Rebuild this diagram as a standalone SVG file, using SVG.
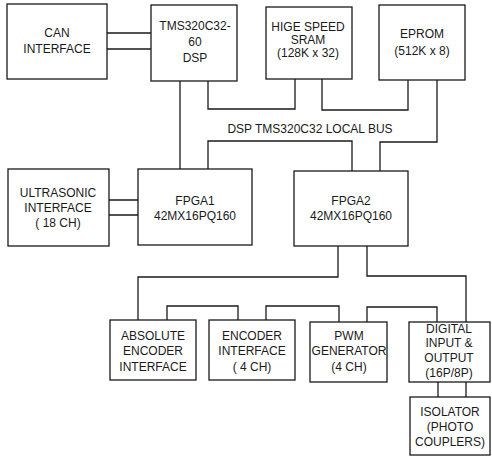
<svg xmlns="http://www.w3.org/2000/svg" width="492" height="457" viewBox="0 0 492 457">
<style>
.box{fill:#fff;stroke:#1a1a1a;stroke-width:1.3}
.ln{fill:none;stroke:#1a1a1a;stroke-width:1.3}
text{font-family:"Liberation Sans",Arial,sans-serif;font-size:12px;fill:#1a1a1a;text-anchor:middle}
</style>
<rect width="492" height="457" fill="#fff"/>
<g id="connectors">
<path class="ln" d="M107 33H151M107 49H151"/>
<path class="ln" d="M180 81V169"/>
<path class="ln" d="M208 81V109H295V79"/>
<path class="ln" d="M322 79V110H408V80"/>
<path class="ln" d="M208 169V141H352V171"/>
<path class="ln" d="M380 171V142H437V80"/>
<path class="ln" d="M109 200H138M109 215H138"/>
<path class="ln" d="M338 246V277H138V320"/>
<path class="ln" d="M367 246V276H466V322"/>
<path class="ln" d="M167 320V306H238V320"/>
<path class="ln" d="M266 320V306H339V322"/>
<path class="ln" d="M367 322V307H437V322"/>
<path class="ln" d="M438 382V397M466 382V397"/>
</g>
<g id="can"><rect class="box" x="7" y="4" width="100" height="75"/><text x="57" y="37">CAN</text><text x="57" y="53">INTERFACE</text></g>
<g id="dsp"><rect class="box" x="151" y="5" width="86" height="76"/><text x="195" y="30">TMS320C32-</text><text x="195" y="46">60</text><text x="195" y="62">DSP</text></g>
<g id="sram"><rect class="box" x="266" y="7" width="86" height="72"/><text x="308" y="31">HIGE SPEED</text><text x="308" y="44">SRAM</text><text x="308" y="57">(128K x 32)</text></g>
<g id="eprom"><rect class="box" x="379" y="5" width="86" height="75"/><text x="422" y="38">EPROM</text><text x="422" y="55">(512K x 8)</text></g>
<g id="bus"><text x="310" y="133">DSP TMS320C32 LOCAL BUS</text></g>
<g id="ultrasonic"><rect class="box" x="8" y="169" width="101" height="77"/><text x="58" y="197">ULTRASONIC</text><text x="58" y="212">INTERFACE</text><text x="58" y="227">( 18 CH)</text></g>
<g id="fpga1"><rect class="box" x="138" y="169" width="114" height="76"/><text x="195" y="205">FPGA1</text><text x="195" y="220">42MX16PQ160</text></g>
<g id="fpga2"><rect class="box" x="294" y="171" width="114" height="75"/><text x="351" y="205">FPGA2</text><text x="351" y="220">42MX16PQ160</text></g>
<g id="abs"><rect class="box" x="110" y="320" width="86" height="60"/><text x="153" y="340">ABSOLUTE</text><text x="153" y="355">ENCODER</text><text x="153" y="371">INTERFACE</text></g>
<g id="enc"><rect class="box" x="209" y="320" width="86" height="60"/><text x="252" y="340">ENCODER</text><text x="252" y="355">INTERFACE</text><text x="252" y="371">( 4 CH)</text></g>
<g id="pwm"><rect class="box" x="310" y="322" width="77" height="60"/><text x="349" y="340">PWM</text><text x="349" y="355">GENERATOR</text><text x="349" y="371">(4 CH)</text></g>
<g id="dio"><rect class="box" x="409" y="322" width="81" height="60"/><text x="449" y="333">DIGITAL</text><text x="449" y="347">INPUT &amp;</text><text x="449" y="362">OUTPUT</text><text x="449" y="377">(16P/8P)</text></g>
<g id="iso"><rect class="box" x="410" y="397" width="80" height="58"/><text x="450" y="416">ISOLATOR</text><text x="450" y="431">(PHOTO</text><text x="450" y="446">COUPLERS)</text></g>
</svg>
